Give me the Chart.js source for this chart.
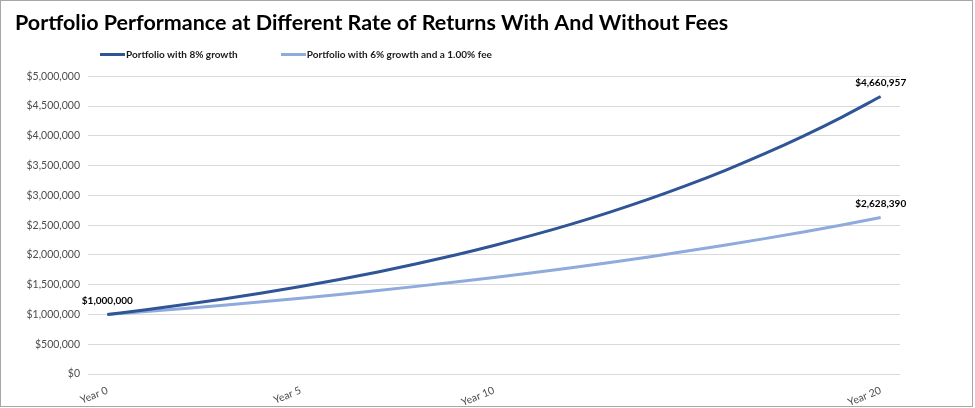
<!DOCTYPE html>
<html lang="en">
<head>
  <meta charset="UTF-8">
  <title>Portfolio Performance at Different Rate of Returns With And Without Fees</title>
  <script src="https://cdn.jsdelivr.net/npm/chart.js"></script>
  <style>
    body { margin: 0; background: #fff; }
    .wrap { position: relative; width: 975px; height: 408px; }
    .frame { position: absolute; left: 0; top: 0; width: 971px; height: 405px; border: 1px solid #a6a6a6; pointer-events: none; }
    .legend { position: absolute; left: 100px; top: 48px; font: bold 10px Lato, sans-serif; color: #1a1a1a; display: flex; }
    .legend span { display: inline-flex; align-items: center; white-space: nowrap; }
    .legend i { display: inline-block; width: 25px; height: 3px; margin-right: 1px; }
  </style>
</head>
<body>
<div class="wrap">
  <canvas id="chart" width="975" height="408"></canvas>
  <div class="legend" id="legend"></div>
  <div class="frame"></div>
</div>
<script>
const years = ["Year 0", "", "", "", "", "Year 5", "", "", "", "", "Year 10",
  "", "", "", "", "", "", "", "", "", "Year 20"];

const growth8 = [1000000, 1080000, 1166400, 1259712, 1360489, 1469328, 1586874, 1713824,
  1850930, 1999005, 2158925, 2331639, 2518170, 2719624, 2937194, 3172169, 3425943,
  3700018, 3996019, 4315701, 4660957];

const growth6fee = [1000000, 1049500, 1101450, 1155970, 1213190, 1273240, 1336270, 1402410,
  1471830, 1544690, 1621150, 1701400, 1785620, 1874000, 1966770, 2064130, 2166300,
  2273530, 2386070, 2504180, 2628390];

const seriesNames = ["Portfolio with 8% growth", "Portfolio with 6% growth and a 1.00% fee"];
const seriesColors = ["#2f5597", "#8faadc"];

// which points get a value label: [dataset, index]
const labelled = [[0, 0], [0, 20], [1, 20]];

const money = v => "$" + Math.round(v).toLocaleString("en-US");

const pointLabels = {
  id: "pointLabels",
  afterDatasetsDraw(chart) {
    const ctx = chart.ctx;
    ctx.save();
    ctx.font = "bold 10px Lato, sans-serif";
    ctx.fillStyle = "#000";
    ctx.textAlign = "center";
    ctx.textBaseline = "middle";
    labelled.forEach(([d, i]) => {
      const pt = chart.getDatasetMeta(d).data[i];
      const v = chart.data.datasets[d].data[i];
      ctx.fillText(money(v), pt.x, pt.y - 14);
    });
    ctx.restore();
  }
};

new Chart(document.getElementById("chart"), {
  type: "line",
  data: {
    labels: years,
    datasets: [
      { label: seriesNames[0], data: growth8, borderColor: seriesColors[0] },
      { label: seriesNames[1], data: growth6fee, borderColor: seriesColors[1] }
    ]
  },
  options: {
    responsive: false,
    animation: false,
    layout: { padding: { left: 15, right: 75, top: 0, bottom: 0 } },
    elements: {
      line: { borderWidth: 3, cubicInterpolationMode: "monotone", fill: false },
      point: { radius: 0 }
    },
    plugins: {
      legend: { display: false },
      tooltip: { enabled: false },
      title: {
        display: true,
        text: "Portfolio Performance at Different Rate of Returns With And Without Fees",
        align: "start",
        color: "#000",
        font: { family: "Lato", size: 21.5, weight: "bold" },
        padding: { top: 10, bottom: 40.5 }
      }
    },
    scales: {
      x: {
        offset: true,
        grid: { display: false },
        border: { display: false },
        afterFit: s => { s.height = 34; },
        ticks: {
          autoSkip: false,
          maxRotation: 22,
          minRotation: 22,
          padding: 2,
          color: "#4d4d4d",
          font: { family: "Lato", size: 10.5 }
        }
      },
      y: {
        min: 0,
        max: 5000000,
        afterFit: s => { s.width = 73; },
        grid: { color: "#d9d9d9", lineWidth: 1, drawTicks: false },
        border: { display: false },
        ticks: {
          stepSize: 500000,
          padding: 8,
          color: "#4d4d4d",
          font: { family: "Lato", size: 10.5 },
          callback: v => money(v)
        }
      }
    }
  },
  plugins: [pointLabels]
});

document.getElementById("legend").innerHTML = seriesNames.map((n, k) =>
  `<span style="margin-right:${k === 0 ? 43 : 0}px"><i style="background:${seriesColors[k]}"></i>${n}</span>`
).join("");
</script>
</body>
</html>
